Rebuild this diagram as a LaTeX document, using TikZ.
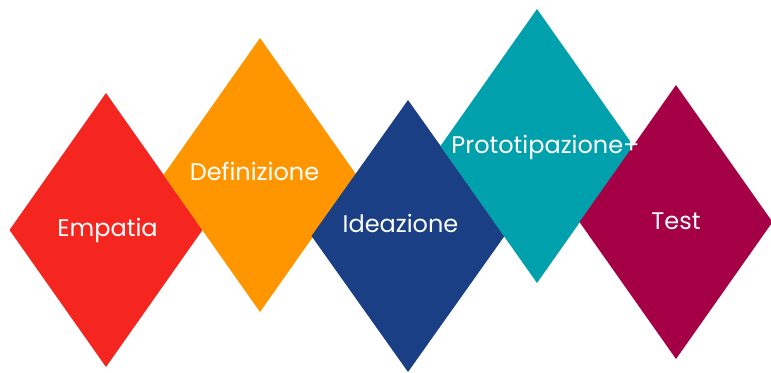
\documentclass[tikz,border=0pt]{standalone}
\usepackage{fontspec}
\setmainfont{Poppins}
\definecolor{rosso}{HTML}{F52620}
\definecolor{arancio}{HTML}{FF9600}
\definecolor{blu}{HTML}{1B3F85}
\definecolor{ottanio}{HTML}{00A1AD}
\definecolor{bordeaux}{HTML}{A50045}
\tikzset{
    fase/.style={font=\fontsize{18}{20}\selectfont, text=white, anchor=base, inner sep=0pt}
}
\begin{document}
\begin{tikzpicture}[x=0.75pt, y=-0.75pt]
    \useasboundingbox (0,0) rectangle (771,372);
    \fill[rosso] (9.5,230) -- (106,93) -- (202.5,230) -- (106,367) -- cycle;
    \fill[arancio] (163.5,175) -- (260,38) -- (356.5,175) -- (260,312) -- cycle;
    \fill[blu] (311.5,236) -- (408,100) -- (504.5,236) -- (408,372) -- cycle;
    \fill[ottanio] (440.5,146) -- (537,9) -- (633.5,146) -- (537,283) -- cycle;
    \fill[bordeaux] (579.5,222) -- (676,85) -- (772.5,222) -- (676,359) -- cycle;
    \node[fase] (empatia) at (107.5,236) {Empatia};
    \node[fase] (definizione) at (254.5,180) {Definizione};
    \node[fase] (ideazione) at (400.5,232) {Ideazione};
    \node[fase] (prototipazione) at (545.5,153) {Prototipazione+};
    \node[fase] (test) at (676,229) {Test};
\end{tikzpicture}
\end{document}
